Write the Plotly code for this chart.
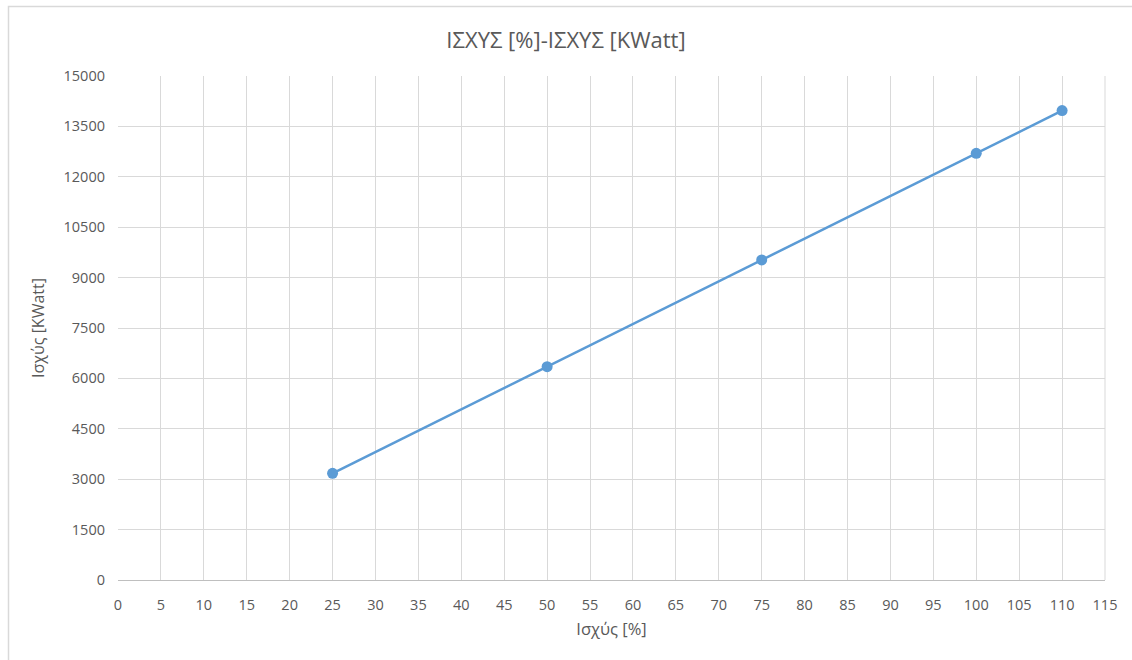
import plotly.graph_objects as go

# Power output: percentage of rated power vs. power in kW
power_pct = [25, 50, 75, 100, 110]
power_kw = [3175, 6350, 9525, 12700, 13970]

x_ticks = list(range(0, 120, 5))
y_ticks = list(range(0, 15001, 1500))

W, H = 1132, 660
L, R, T, B = 118, 27, 76, 80
pw, ph = W - L - R, H - T - B

font_family = "Open Sans, Noto Sans, sans-serif"
grey = "#595959"

fig = go.Figure()
fig.add_trace(go.Scatter(
    x=power_pct, y=power_kw,
    mode="lines+markers",
    line=dict(color="#5b9bd5", width=2.5),
    marker=dict(color="#5b9bd5", size=11),
    showlegend=False,
))

fig.update_layout(
    width=W, height=H,
    margin=dict(l=L, r=R, t=T, b=B),
    paper_bgcolor="white", plot_bgcolor="white",
    font=dict(family=font_family, color=grey, size=14),
    title=dict(text="ΙΣΧΥΣ [%]-ΙΣΧΥΣ [KWatt]", x=0.5, xanchor="center",
               y=1 - 40 / H, yanchor="middle",
               font=dict(size=22, color=grey, family=font_family)),
    xaxis=dict(range=[0, 115], tickvals=x_ticks, ticktext=[str(v) for v in x_ticks],
               showgrid=True, gridcolor="#d9d9d9", gridwidth=1,
               showline=True, linecolor="#bfbfbf", linewidth=1,
               zeroline=False, ticks="", ticklen=0, ticklabelstandoff=12,
               tickfont=dict(size=14.5, color=grey),
               title=dict(text="Ισχύς [%]", font=dict(size=16.5, color=grey), standoff=10)),
    yaxis=dict(range=[0, 15000], tickvals=y_ticks, ticktext=[str(v) for v in y_ticks],
               showgrid=True, gridcolor="#d9d9d9", gridwidth=1,
               showline=False, zeroline=False, ticks="", ticklen=0, ticklabelstandoff=12,
               tickfont=dict(size=14.5, color=grey),
               title=dict(text="Ισχύς [KWatt]", font=dict(size=16, color=grey), standoff=14)),
)

# right edge gridline of the plot area
fig.add_shape(type="line", xref="paper", yref="paper", x0=1, x1=1, y0=0, y1=1,
              line=dict(color="#d9d9d9", width=1))

# outer chart frame
fx0 = (8.5 - L) / pw
fy1 = (H - B - 6.5) / ph
fig.add_shape(type="rect", xref="paper", yref="paper",
              x0=fx0, x1=(W + 10 - L) / pw, y0=-(B + 10) / ph, y1=fy1,
              line=dict(color="#d9d9d9", width=1.5), layer="below")

fig.write_html("out.html")
